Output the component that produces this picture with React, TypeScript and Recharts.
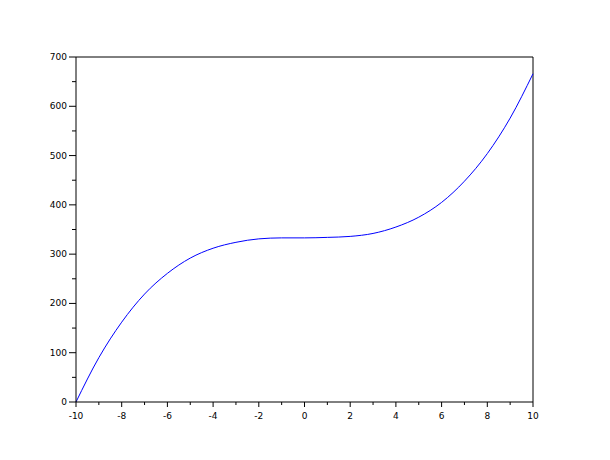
import * as React from "react"
import { LineChart, Line, XAxis, YAxis, ReferenceLine } from "recharts"

// values
const xValues = [-10, -9, -8, -7, -6, -5, -4, -3, -2, -1, 0, 1, 2, 3, 4, 5, 6, 7, 8, 9, 10]
const yValues = [0, 90, 162, 219, 261, 292, 312, 324, 331, 333, 333, 334, 336, 342, 355, 375, 405, 448, 504, 576, 666]

const xTicks = [-10, -9, -8, -7, -6, -5, -4, -3, -2, -1, 0, 1, 2, 3, 4, 5, 6, 7, 8, 9, 10]
const yTicks = [0, 50, 100, 150, 200, 250, 300, 350, 400, 450, 500, 550, 600, 650, 700]

const data = xValues.map((x, i) => ({ x, y: yValues[i] }))

const font = "'DejaVu Sans', sans-serif"

const XTick = (props: any) => {
  const { x, y, payload } = props
  const major = payload.value % 2 === 0
  return (
    <g>
      <line x1={x} x2={x} y1={y} y2={y + (major ? 5 : 3)} stroke="#000" />
      {major && (
        <text x={x} y={y + 17} textAnchor="middle" fontSize={9} fontFamily={font} fill="#000">
          {payload.value}
        </text>
      )}
    </g>
  )
}

const YTick = (props: any) => {
  const { x, y, payload } = props
  const major = payload.value % 100 === 0
  return (
    <g>
      <line x1={x} x2={x - (major ? 7 : 4)} y1={y} y2={y} stroke="#000" />
      {major && (
        <text x={x - 9} y={y + 3} textAnchor="end" fontSize={9} fontFamily={font} fill="#000">
          {payload.value}
        </text>
      )}
    </g>
  )
}

export default function App() {
  return (
    <LineChart
      width={602}
      height={452}
      data={data}
      margin={{ top: 49, right: 77, left: 0, bottom: 0 }}
      style={{ background: "#fff" }}
    >
      <XAxis
        dataKey="x"
        type="number"
        domain={[-10, 10]}
        ticks={xTicks}
        interval={0}
        tickLine={false}
        tickSize={0}
        tickMargin={0}
        height={58}
        stroke="#000"
        tick={<XTick />}
      />
      <YAxis
        type="number"
        domain={[0, 700]}
        ticks={yTicks}
        interval={0}
        tickLine={false}
        tickSize={0}
        tickMargin={0}
        width={68}
        stroke="#000"
        tick={<YTick />}
      />
      <ReferenceLine y={700} stroke="#000" />
      <ReferenceLine x={10} stroke="#000" />
      <Line
        type="monotone"
        dataKey="y"
        stroke="#0000ff"
        strokeWidth={1}
        dot={false}
        isAnimationActive={false}
      />
    </LineChart>
  )
}
